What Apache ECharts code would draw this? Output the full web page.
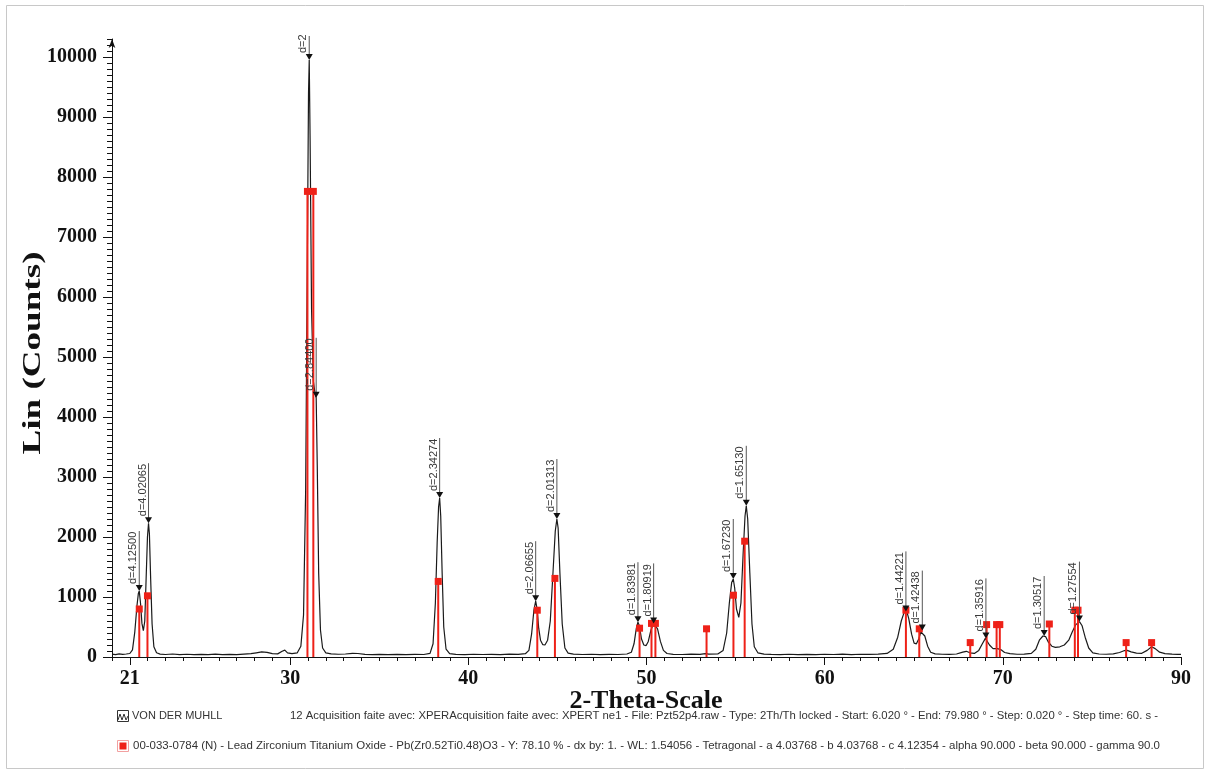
<!DOCTYPE html>
<html><head><meta charset="utf-8">
<script src="https://cdn.jsdelivr.net/npm/echarts@6/dist/echarts.min.js"></script>
<style>html,body{margin:0;padding:0;background:#fff}#c{width:1208px;height:776px}</style>
</head><body><div id="c"></div>
<script>
// ---- data ----
const xTickValues = [21, 30, 40, 50, 60, 70, 80];
const xTickLabels = ['21', '30', '40', '50', '60', '70', '90'];
const yTickValues = [0, 1000, 2000, 3000, 4000, 5000, 6000, 7000, 8000, 9000, 10000];

// measured XRD scan (2-theta, counts)
const scan2Theta = [20.00,20.20,20.40,20.60,20.80,21.00,21.15,21.28,21.40,21.48,21.53,21.60,21.68,21.76,21.84,21.92,21.99,22.05,22.10,22.17,22.25,22.35,22.50,22.70,23.00,23.40,23.80,24.20,24.60,25.00,25.40,25.80,26.20,26.60,27.00,27.40,27.80,28.10,28.40,28.70,29.00,29.30,29.55,29.70,29.85,30.10,30.40,30.60,30.75,30.87,30.96,31.03,31.07,31.12,31.20,31.30,31.40,31.46,31.52,31.60,31.70,31.82,32.00,32.30,32.70,33.10,33.50,33.80,34.20,34.60,35.00,35.50,36.00,36.50,37.00,37.50,37.85,38.02,38.15,38.25,38.33,38.39,38.45,38.53,38.62,38.75,38.95,39.30,39.80,40.30,40.80,41.30,41.80,42.30,42.80,43.20,43.40,43.55,43.68,43.78,43.86,43.95,44.05,44.18,44.30,44.45,44.60,44.75,44.88,44.97,45.04,45.14,45.27,45.42,45.60,45.90,46.40,46.90,47.40,47.90,48.40,48.90,49.15,49.30,49.43,49.52,49.60,49.72,49.85,49.98,50.10,50.25,50.40,50.50,50.62,50.78,50.95,51.15,51.50,52.00,52.50,53.00,53.30,53.50,54.00,54.30,54.50,54.65,54.78,54.87,54.95,55.05,55.18,55.30,55.42,55.53,55.60,55.68,55.80,55.92,56.05,56.25,56.60,57.00,57.50,58.00,58.50,59.00,59.50,60.00,60.50,61.00,61.50,62.00,62.50,63.00,63.50,63.85,64.10,64.30,64.48,64.60,64.72,64.88,65.02,65.15,65.28,65.40,65.50,65.62,65.78,65.95,66.20,66.60,67.00,67.40,67.75,67.95,68.15,68.40,68.65,68.85,69.02,69.12,69.25,69.45,69.70,69.90,70.10,70.40,70.80,71.20,71.60,71.85,72.05,72.25,72.40,72.55,72.75,72.95,73.20,73.45,73.70,73.90,74.10,74.30,74.45,74.62,74.82,75.05,75.40,75.80,76.20,76.55,76.80,76.98,77.20,77.50,77.80,78.10,78.35,78.55,78.80,79.10,79.50,79.80,80.00];
const scanCounts = [48,40,52,44,50,58,120,420,850,1060,1100,900,560,440,600,1350,2000,2230,2050,1300,550,170,70,48,42,50,40,46,38,44,40,47,39,44,41,48,55,70,85,78,55,52,95,115,70,55,70,180,700,2800,6500,9400,9950,8600,5800,4600,4380,4320,3200,1400,450,150,70,52,46,50,62,58,45,40,44,39,45,40,43,42,60,220,900,1900,2500,2650,2350,1400,500,130,55,44,40,46,42,45,40,47,44,55,110,380,780,930,800,480,280,205,200,280,600,1400,2100,2300,2150,1400,550,150,65,48,42,46,41,45,42,50,80,220,480,580,520,300,200,190,260,450,560,540,470,260,110,58,45,42,48,44,55,47,50,110,400,900,1240,1300,1150,800,660,900,1700,2350,2520,2300,1400,550,170,70,48,44,40,46,41,45,40,46,42,47,41,46,43,48,60,130,330,600,760,770,640,380,230,220,300,420,440,350,180,80,52,46,44,50,80,95,70,60,110,220,310,300,200,140,140,120,75,55,46,48,60,130,280,350,340,250,180,160,170,200,280,420,540,590,520,330,150,70,50,46,52,75,105,110,85,65,62,110,170,140,80,56,48,44,45];

// reference pattern 00-033-0784 sticks
const refPos = [21.53,21.99,30.97,31.30,38.31,43.87,44.86,49.61,50.28,50.50,53.37,54.88,55.51,64.56,65.31,68.17,69.09,69.65,69.83,72.61,74.04,74.22,76.92,78.35];
const refInt = [800,1020,7760,7760,1260,780,1310,480,560,560,470,1030,1930,780,470,240,540,540,540,550,780,780,240,240];

// identified peaks
const peakPos = [21.53,22.05,31.07,31.46,38.39,43.78,44.97,49.52,50.40,54.87,55.60,64.56,65.48,69.05,72.32,74.30];
const peakInt = [1100,2230,9950,4320,2650,930,2300,580,560,1300,2520,760,440,310,350,590];
const peakLabels = ['d=4.12500','d=4.02065','d=2','d=2.84400','d=2.34274','d=2.06655','d=2.01313','d=1.83981','d=1.80919','d=1.67230','d=1.65130','d=1.44221','d=1.42438','d=1.35916','d=1.30517','d=1.27554'];

const legendLine1a = 'VON DER MUHLL';
const legendLine1b = '12 Acquisition faite avec: XPERAcquisition faite avec: XPERT ne1 - File: Pzt52p4.raw - Type: 2Th/Th locked - Start: 6.020 ° - End: 79.980 ° - Step: 0.020 ° - Step time: 60. s -';
const legendLine2 = '00-033-0784 (N) - Lead Zirconium Titanium Oxide - Pb(Zr0.52Ti0.48)O3 - Y: 78.10 % - dx by: 1. - WL: 1.54056 - Tetragonal - a 4.03768 - b 4.03768 - c 4.12354 - alpha 90.000 - beta 90.000 - gamma 90.0';
const yTitle = 'Lin (Counts)';
const xTitle = '2-Theta-Scale';

// ---- rendering ----
const ctx = document.createElement('canvas').getContext('2d');
function measure(text, font) { ctx.font = font; return ctx.measureText(text).width; }

const legFont = '11px "Liberation Sans", Arial, sans-serif';
const titleFont = 'bold 26px "Liberation Serif", "Times New Roman", serif';
const s1b = 868 / measure(legendLine1b, legFont);
const s2 = 1027 / measure(legendLine2, legFont);
const sYT = 203 / measure(yTitle, titleFont);

const chart = echarts.init(document.getElementById('c'));
const axisFont = {color: '#111', fontFamily: '"Liberation Serif", "Times New Roman", serif', fontWeight: 'bold', fontSize: 20};
const RED = '#ee2118';

chart.setOption({
  animation: false,
  backgroundColor: '#fff',
  grid: {left: 112, right: 27, top: 39, bottom: 119},
  xAxis: [
    {type: 'value', min: 20, max: 80, position: 'bottom',
     axisLine: {lineStyle: {color: '#111', width: 1}},
     axisTick: {customValues: xTickValues, length: 8, lineStyle: {color: '#111'}},
     axisLabel: Object.assign({customValues: xTickValues, margin: 12,
       formatter: v => { const i = xTickValues.indexOf(v); return i >= 0 ? xTickLabels[i] : ''; }}, axisFont),
     splitLine: {show: false}},
    {type: 'value', min: 20, max: 80, interval: 1, position: 'bottom', offset: 0,
     axisLine: {show: false}, axisTick: {length: 4, lineStyle: {color: '#111'}},
     axisLabel: {show: false}, splitLine: {show: false}}
  ],
  yAxis: [
    {type: 'value', min: 0, max: 10300, position: 'left',
     axisLine: {show: true, symbol: ['none', 'arrow'], symbolSize: [5, 9], lineStyle: {color: '#111'}},
     axisTick: {show: true, customValues: yTickValues, length: 9, lineStyle: {color: '#111'}},
     axisLabel: Object.assign({customValues: yTickValues, margin: 15, formatter: v => String(v)}, axisFont),
     splitLine: {show: false}},
    {type: 'value', min: 0, max: 10300, interval: 100, position: 'left', offset: 0,
     axisLine: {show: false}, axisTick: {show: true, length: 5, lineStyle: {color: '#111'}},
     axisLabel: {show: false}, splitLine: {show: false}}
  ],
  series: [
    {type: 'line', xAxisIndex: 0, yAxisIndex: 0, showSymbol: false, z: 2,
     data: scan2Theta.map((x, i) => [x, scanCounts[i]]),
     lineStyle: {color: '#1a1a1a', width: 1.2}},
    {type: 'custom', xAxisIndex: 0, yAxisIndex: 0, z: 3,
     data: refPos.map((x, i) => [x, refInt[i]]),
     encode: {x: 0, y: 1},
     renderItem: (params, api) => {
       const p0 = api.coord([api.value(0), 0]);
       const p1 = api.coord([api.value(0), api.value(1)]);
       return {type: 'group', children: [
         {type: 'line', shape: {x1: p0[0], y1: p0[1], x2: p1[0], y2: p1[1]}, style: {stroke: RED, lineWidth: 2}},
         {type: 'rect', shape: {x: p1[0] - 3.5, y: p1[1] - 3.5, width: 7, height: 7}, style: {fill: RED}}
       ]};
     }},
    {type: 'custom', xAxisIndex: 0, yAxisIndex: 0, z: 4,
     data: peakPos.map((x, i) => [x, peakInt[i]]),
     encode: {x: 0, y: 1},
     renderItem: (params, api) => {
       const p = api.coord([api.value(0), api.value(1)]);
       const lbl = peakLabels[params.dataIndex];
       const top = Math.max(p[1] - 60, params.coordSys.y - 3);
       return {type: 'group', children: [
         {type: 'line', shape: {x1: p[0], y1: p[1] - 3, x2: p[0], y2: top}, style: {stroke: '#555', lineWidth: 1}},
         {type: 'polygon', shape: {points: [[p[0] - 3.5, p[1] - 6], [p[0] + 3.5, p[1] - 6], [p[0], p[1]]]}, style: {fill: '#111'}},
         {type: 'text', x: p[0] - 6, y: p[1] - 7, rotation: Math.PI / 2,
          style: {text: lbl, fill: '#3a3a3a', font: '11px "Liberation Sans", Arial, sans-serif', align: 'left', verticalAlign: 'middle'}}
       ]};
     }}
  ],
  graphic: [
    {type: 'rect', shape: {x: 6.5, y: 5.5, width: 1197, height: 763}, style: {fill: null, stroke: '#c8c8c8', lineWidth: 1}, z: -1},
    {type: 'text', x: 33, y: 353, rotation: Math.PI / 2, scaleX: sYT,
     style: {text: yTitle, font: titleFont, fill: '#111', align: 'center', verticalAlign: 'middle'}},
    {type: 'text', x: 646, y: 701,
     style: {text: xTitle, font: titleFont, fill: '#111', align: 'center', verticalAlign: 'middle'}},
    // legend icons
    {type: 'rect', shape: {x: 117.5, y: 710.5, width: 11, height: 11}, style: {fill: '#fff', stroke: '#333', lineWidth: 1}},
    {type: 'polyline', shape: {points: [[118, 720], [120, 714], [122, 720], [124, 714], [126, 720], [128, 716]]}, style: {stroke: '#333', lineWidth: 1, fill: null}},
    {type: 'rect', shape: {x: 117.5, y: 740.5, width: 11, height: 11}, style: {fill: '#fff', stroke: '#f2a0a0', lineWidth: 1}},
    {type: 'rect', shape: {x: 119.5, y: 742.5, width: 7, height: 7}, style: {fill: RED}},
    {type: 'text', x: 132, y: 716, style: {text: legendLine1a, font: legFont, fill: '#333', align: 'left', verticalAlign: 'middle'}},
    {type: 'text', x: 290, y: 716, scaleX: s1b, style: {text: legendLine1b, font: legFont, fill: '#333', align: 'left', verticalAlign: 'middle'}},
    {type: 'text', x: 133, y: 746, scaleX: s2, style: {text: legendLine2, font: legFont, fill: '#333', align: 'left', verticalAlign: 'middle'}}
  ]
});
</script></body></html>
